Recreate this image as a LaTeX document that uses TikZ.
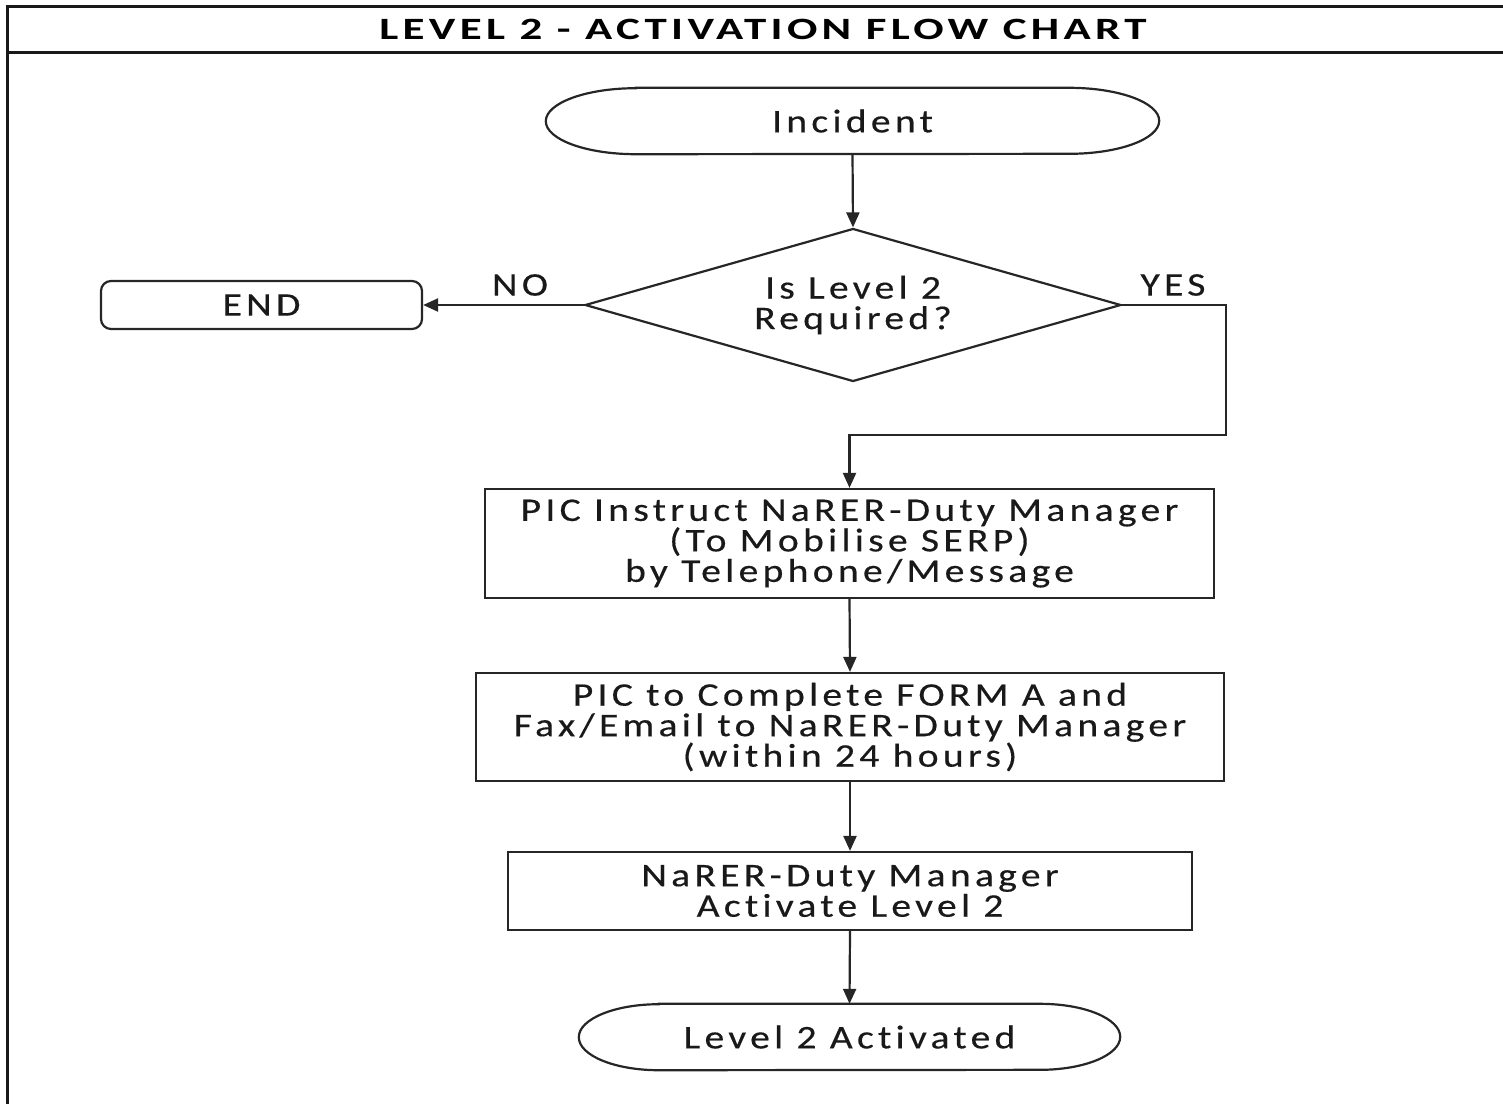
\documentclass[tikz,border=0pt]{standalone}
\usepackage{fontspec}
\setmainfont{Carlito}
\newfontfamily\bodyfont[FakeStretch=1.2,LetterSpace=13,FakeBold=0.4,Ligatures=NoCommon]{Carlito}
\newfontfamily\headfont[FakeStretch=1.45,LetterSpace=14,Ligatures=NoCommon]{Carlito Bold}
\usetikzlibrary{arrows.meta,shapes.geometric}

% outline with flat top/bottom and elliptical ends around a named node
\newcommand\drawcapsule[3]{%
  \draw[outline] ([xshift=#2]#1.north west) -- ([xshift=-#2]#1.north east)
    arc[start angle=90,end angle=-90,x radius=#2,y radius=#3]
    -- ([xshift=#2]#1.south west)
    arc[start angle=270,end angle=90,x radius=#2,y radius=#3] -- cycle;}

\tikzset{
  outline/.style={line width=2.2pt,draw=black!85},
  txt/.style={font=\bodyfont\fontsize{33}{30.5}\selectfont,align=center,text=black!90},
  term/.style={txt,inner sep=0pt},
  stepbox/.style={txt,draw=black!85,line width=2.2pt,rectangle,inner sep=0pt},
  endbox/.style={txt,draw=black!85,line width=2.2pt,rectangle,rounded corners=10pt,inner sep=0pt},
  decision/.style={txt,draw=black!85,line width=2.2pt,diamond,aspect=3.5,inner sep=0pt},
  flow/.style={line width=2.2pt,draw=black!85,-{Triangle[length=15pt,width=13pt]}},
  frame/.style={line width=3pt,draw=black!90},
}

\begin{document}
\begin{tikzpicture}[x=1pt,y=-1pt]
\useasboundingbox (0,0) rectangle (1503,1104);

% page frame and title bar
\draw[frame] (7,1104) -- (7,6) -- (1503,6);
\draw[frame] (7,52) -- (1503,52);
\node[font=\headfont\fontsize{31}{30}\selectfont,text=black] (title) at (763,29) {LEVEL 2 - ACTIVATION FLOW CHART};

% nodes
\node[term,minimum width=613pt,minimum height=66pt] (inc) at (852.5,121) {Incident};
\drawcapsule{inc}{90pt}{33pt}

\node[decision,minimum width=536pt,minimum height=153pt] (dia) at (853,305) {Is Level 2\\Required?};

\node[endbox,minimum width=321pt,minimum height=48pt] (end) at (261.5,305) {END};

\node[stepbox,minimum width=729pt,minimum height=109pt] (b1) at (849.5,543.5)
  {PIC Instruct NaRER-Duty Manager\\(To Mobilise SERP)\\by Telephone/Message};

\node[stepbox,minimum width=748pt,minimum height=108pt] (b2) at (850,727)
  {PIC to Complete FORM A and\\Fax/Email to NaRER-Duty Manager\\(within 24 hours)};

\node[stepbox,minimum width=684pt,minimum height=78pt] (b3) at (850,891)
  {NaRER-Duty Manager\\Activate Level 2};

\node[term,minimum width=541pt,minimum height=66pt] (act) at (849.5,1037) {Level 2 Activated};
\drawcapsule{act}{80pt}{33pt}

% labels
\node[txt] (no) at (520,285) {NO};
\node[txt] (yes) at (1173,285) {YES};

% connectors
\coordinate (yesturn) at (1226,435);
\draw[flow] (inc.south) -- (dia.north);
\draw[flow] (dia.west) -- (end.east);
\draw[flow] (dia.east) -| (yesturn) -| (b1.north);
\draw[flow] (b1.south) -- (b2.north);
\draw[flow] (b2.south) -- (b3.north);
\draw[flow] (b3.south) -- (act.north);
\end{tikzpicture}
\end{document}
